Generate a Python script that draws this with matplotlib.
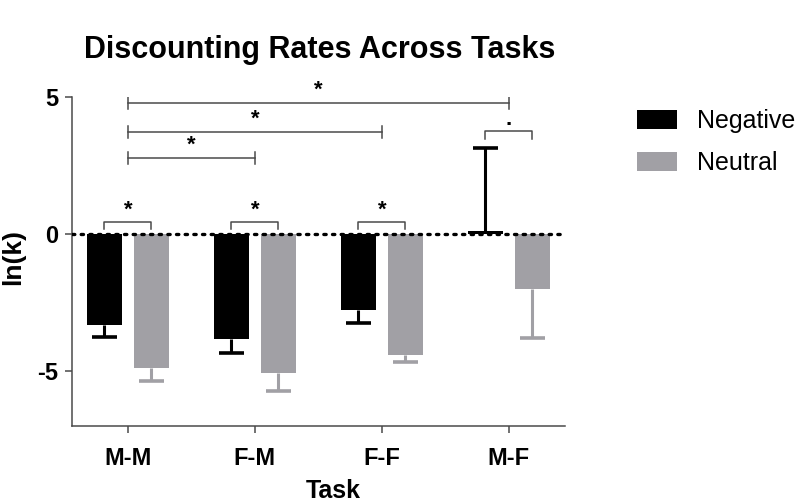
import numpy as np
import matplotlib.pyplot as plt

plt.rcParams['font.family'] = ['Liberation Sans', 'DejaVu Sans']

# data
tasks = ['M-M', 'F-M', 'F-F', 'M-F']
negative = [-3.32, -3.83, -2.77, 0.10]
negative_err = [0.44, 0.51, 0.48, 3.04]
neutral = [-4.90, -5.07, -4.42, -2.00]
neutral_err = [0.47, 0.66, 0.25, 1.80]

# comparisons between tasks (index pairs, bar height, label)
task_pairs = [(0, 3, 4.8, '*'), (0, 2, 3.72, '*'), (0, 1, 2.77, '*')]
# within-task comparisons (task index, bracket height, label)
within = [(0, 0.45, '*'), (1, 0.45, '*'), (2, 0.45, '*'), (3, 3.75, '.')]

black = '#000000'
grey = '#a1a0a5'
line_col = '#4a4a4a'

fig = plt.figure(figsize=(8, 5.04), dpi=100)
ax = fig.add_axes([0.09, 0.1548, 0.616, 0.6527])

x = np.arange(len(tasks))
off = 0.185
w = 0.28

def one_sided(ax, xs, vals, errs, color):
    # error bar only on the side away from zero, one cap at the end
    ends = [v + e if v >= 0 else v - e for v, e in zip(vals, errs)]
    ax.vlines(xs, vals, ends, color=color, lw=2.2, zorder=3)
    ax.plot(xs, ends, linestyle='none', marker='_', markersize=18,
            markeredgewidth=2.6, color=color, zorder=3)

ax.bar(x - off, negative, w, color=black, label='Negative', zorder=2)
ax.bar(x + off, neutral, w, color=grey, label='Neutral', zorder=2)
one_sided(ax, x - off, negative, negative_err, black)
one_sided(ax, x + off, neutral, neutral_err, grey)

# dotted zero line
ax.axhline(0, color='black', lw=2.4, linestyle=(0, (0.7, 1.9)),
           dash_capstyle='round', zorder=4)

# between-task lines with end ticks
for a, b, h, lab in task_pairs:
    ax.plot([a, b], [h, h], color=line_col, lw=1.1, zorder=5)
    for xx in (a, b):
        ax.plot([xx, xx], [h - 0.22, h + 0.22], color=line_col, lw=1.1, zorder=5)
    ax.text((a + b) / 2, h + 0.08, lab, ha='center', va='bottom',
            fontsize=16, fontweight='bold')

# within-task brackets
for i, h, lab in within:
    ax.plot([i - off, i - off, i + off, i + off], [h - 0.28, h, h, h - 0.28],
            color=line_col, lw=1.1, zorder=5)
    ax.text(i, h + 0.05, lab, ha='center', va='bottom',
            fontsize=16, fontweight='bold')

ax.set_xlim(-0.44, 3.44)
ax.set_ylim(-7, 5)
ax.set_yticks([-5, 0, 5])
ax.set_yticklabels(['-5', '0', '5'])
ax.set_xticks(x)
ax.set_xticklabels(tasks)
for s in ('top', 'right'):
    ax.spines[s].set_visible(False)
for s in ('left', 'bottom'):
    ax.spines[s].set_color(line_col)
    ax.spines[s].set_linewidth(1.1)
ax.tick_params(colors=line_col, width=1.1, length=5, labelcolor='black',
               labelsize=17)
ax.tick_params(axis='x', pad=10)
ax.tick_params(axis='y', pad=5)
for t in ax.get_xticklabels() + ax.get_yticklabels():
    t.set_fontweight('bold')

fig.text(0.4, 1 - 58 / 504, 'Discounting Rates Across Tasks', ha='center',
         va='baseline', fontsize=22, fontweight='bold')
fig.text(333 / 800, 1 - 498 / 504, 'Task', ha='center', va='baseline',
         fontsize=18, fontweight='bold')
fig.text(13 / 800, 1 - 257 / 504, 'ln(k)', ha='center', va='center',
         rotation=90, fontsize=19, fontweight='bold')

fig.legend(loc='upper left', bbox_to_anchor=(0.796, 0.783), frameon=False,
           fontsize=18, handlelength=1.6, handleheight=0.8, handletextpad=0.8,
           labelspacing=0.7, borderpad=0, borderaxespad=0)

fig.savefig('out.png', dpi=100)
